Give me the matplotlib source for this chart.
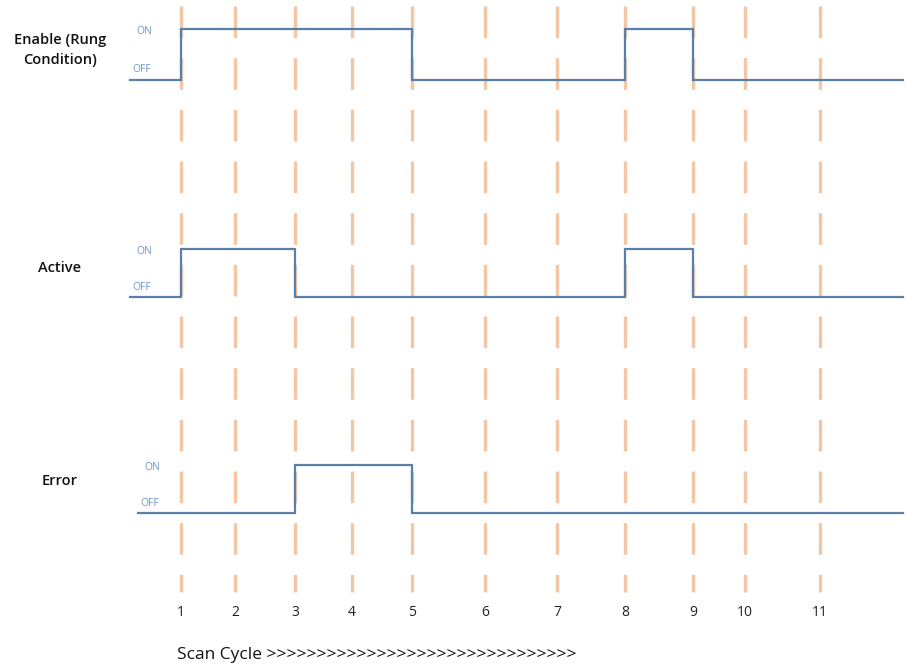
import matplotlib
matplotlib.use('Agg')
import matplotlib.pyplot as plt

# scan cycle markers (pixel x of each cycle on the timeline)
cycles = ['1', '2', '3', '4', '5', '6', '7', '8', '9', '10', '11']
cycle_x = [181, 235, 295, 352, 412, 485, 557, 625, 693, 745, 820]

# signals: name, ON intervals given as (start cycle, end cycle)
signal_names = ['Enable (Rung\nCondition)', 'Active', 'Error']
enable_on = [(1, 5), (8, 9)]
active_on = [(1, 3), (8, 9)]
error_on = [(3, 5)]

# vertical layout of each trace (pixel rows): ON level, OFF level
on_y = [29, 249, 465]
off_y = [80, 297, 513]
label_y = [50, 268, 481]
trace_start = [130, 130, 138]
trace_end = 903

line_col = '#5a7fa8'
dash_col = '#f3c6a5'
onoff_col = '#6f96c8'

fig = plt.figure(figsize=(9.05, 6.68), dpi=100)
ax = fig.add_axes([0, 0, 1, 1])
ax.set_xlim(0, 905)
ax.set_ylim(668, 0)
ax.axis('off')

# dashed scan cycle lines
for x in cycle_x:
    ax.plot([x, x], [6, 592], color=dash_col, lw=2.4, dashes=(9.5, 6), zorder=1)

for label, x in zip(cycles, cycle_x):
    ax.text(x, 612, label, ha='center', va='center', fontsize=10,
            family='Open Sans', color='#222222')

ax.text(177, 655, 'Scan Cycle >>>>>>>>>>>>>>>>>>>>>>>>>>>>>>>', ha='left', va='center',
        fontsize=12.5, family='Open Sans', fontweight='medium', color='#111111')

for i, on_list in enumerate([enable_on, active_on, error_on]):
    hi, lo = on_y[i], off_y[i]
    xs = [trace_start[i]]
    ys = [lo]
    for a, b in on_list:
        xa, xb = cycle_x[a - 1], cycle_x[b - 1]
        xs += [xa, xa, xb, xb]
        ys += [lo, hi, hi, lo]
    xs.append(trace_end)
    ys.append(lo)
    ax.plot(xs, ys, color=line_col, lw=1.6, zorder=3, solid_joinstyle='miter')

    ax.text(trace_start[i] + 6, hi + 2, 'ON', fontsize=7.5, color=onoff_col,
            family='Open Sans', va='center', ha='left')
    ax.text(trace_start[i] + 2, lo - 10, 'OFF', fontsize=7.5, color=onoff_col,
            family='Open Sans', va='center', ha='left')

    ax.text(60, label_y[i], signal_names[i], ha='center', va='center',
            fontsize=10.5, family='Open Sans', fontweight='semibold', color='#111111',
            linespacing=1.5)

fig.savefig('out.png', dpi=100)
